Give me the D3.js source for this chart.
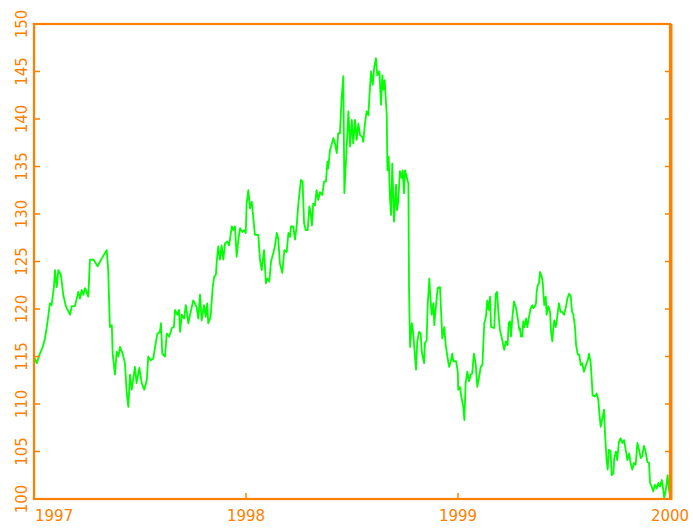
<!DOCTYPE html>
<html>
<head>
<meta charset="utf-8">
<script src="https://cdn.jsdelivr.net/npm/d3@7"></script>
<style>
  body { margin: 0; background: #fff; }
  text { font-family: "DejaVu Sans", sans-serif; font-size: 15px; fill: #ff8000; }
</style>
</head>
<body>
<div id="chart"></div>
<script>
// decimal year, value
const years = [
  1997.000,1997.013,1997.028,1997.041,1997.052,1997.063,1997.075,1997.083,1997.094,1997.099,
  1997.107,1997.115,1997.127,1997.138,1997.150,1997.170,1997.178,1997.193,1997.209,1997.217,
  1997.225,1997.233,1997.241,1997.256,1997.264,1997.280,1997.300,1997.319,1997.343,1997.350,
  1997.358,1997.367,1997.371,1997.382,1997.390,1997.398,1997.406,1997.418,1997.429,1997.437,
  1997.445,1997.453,1997.461,1997.476,1997.484,1997.497,1997.508,1997.520,1997.532,1997.539,
  1997.550,1997.563,1997.571,1997.582,1997.594,1997.599,1997.605,1997.618,1997.626,1997.638,
  1997.650,1997.660,1997.665,1997.676,1997.684,1997.689,1997.697,1997.708,1997.716,1997.728,
  1997.736,1997.751,1997.767,1997.775,1997.783,1997.791,1997.802,1997.810,1997.817,1997.822,
  1997.833,1997.843,1997.850,1997.858,1997.862,1997.869,1997.877,1997.885,1997.893,1997.901,
  1997.912,1997.920,1997.925,1997.933,1997.940,1997.948,1997.956,1997.964,1997.972,1997.983,
  1997.991,1997.999,1998.003,1998.011,1998.019,1998.027,1998.034,1998.042,1998.058,1998.066,
  1998.074,1998.085,1998.094,1998.100,1998.110,1998.118,1998.129,1998.137,1998.145,1998.152,
  1998.160,1998.171,1998.181,1998.192,1998.200,1998.208,1998.212,1998.223,1998.231,1998.239,
  1998.247,1998.259,1998.267,1998.274,1998.282,1998.291,1998.299,1998.305,1998.311,1998.317,
  1998.325,1998.333,1998.341,1998.349,1998.360,1998.368,1998.377,1998.384,1998.388,1998.396,
  1998.404,1998.412,1998.420,1998.428,1998.435,1998.443,1998.451,1998.459,1998.464,1998.475,
  1998.483,1998.491,1998.499,1998.506,1998.514,1998.522,1998.530,1998.538,1998.549,1998.553,
  1998.561,1998.569,1998.577,1998.585,1998.590,1998.598,1998.605,1998.613,1998.619,1998.629,
  1998.637,1998.643,1998.648,1998.654,1998.659,1998.664,1998.667,1998.673,1998.679,1998.684,
  1998.690,1998.698,1998.708,1998.712,1998.718,1998.726,1998.734,1998.739,1998.745,1998.750,
  1998.758,1998.766,1998.769,1998.774,1998.782,1998.789,1998.797,1998.802,1998.808,1998.816,
  1998.824,1998.829,1998.840,1998.844,1998.852,1998.857,1998.865,1998.868,1998.876,1998.884,
  1998.888,1998.896,1998.904,1998.915,1998.920,1998.926,1998.935,1998.942,1998.950,1998.958,
  1998.966,1998.973,1998.978,1998.991,1998.999,1999.001,1999.009,1999.017,1999.025,1999.030,
  1999.036,1999.044,1999.052,1999.060,1999.067,1999.075,1999.083,1999.091,1999.100,1999.107,
  1999.115,1999.124,1999.132,1999.138,1999.145,1999.151,1999.156,1999.171,1999.178,1999.184,
  1999.192,1999.198,1999.209,1999.218,1999.226,1999.234,1999.239,1999.245,1999.250,1999.256,
  1999.264,1999.274,1999.282,1999.289,1999.292,1999.297,1999.303,1999.308,1999.313,1999.321,
  1999.327,1999.335,1999.343,1999.351,1999.355,1999.363,1999.368,1999.371,1999.376,1999.382,
  1999.387,1999.395,1999.400,1999.403,1999.407,1999.414,1999.418,1999.426,1999.434,1999.439,
  1999.445,1999.450,1999.454,1999.461,1999.466,1999.470,1999.476,1999.484,1999.492,1999.500,
  1999.508,1999.516,1999.524,1999.532,1999.538,1999.544,1999.552,1999.557,1999.565,1999.572,
  1999.579,1999.586,1999.594,1999.604,1999.612,1999.618,1999.626,1999.631,1999.635,1999.646,
  1999.654,1999.662,1999.667,1999.673,1999.681,1999.689,1999.693,1999.701,1999.706,1999.712,
  1999.720,1999.725,1999.733,1999.737,1999.745,1999.751,1999.759,1999.767,1999.775,1999.783,
  1999.791,1999.799,1999.807,1999.814,1999.822,1999.830,1999.838,1999.846,1999.854,1999.862,
  1999.869,1999.877,1999.885,1999.893,1999.901,1999.906,1999.914,1999.921,1999.929,1999.937,
  1999.945,1999.953,1999.961,1999.966,1999.973,1999.981,1999.989,1999.994,2000.000
];
const values = [
  115.0,114.3,115.3,116.0,116.9,118.5,120.6,120.4,122.3,124.1,
  122.3,124.1,123.6,121.5,120.3,119.4,120.3,120.3,121.8,121.1,
  122.0,121.5,122.2,121.3,125.2,125.2,124.5,125.3,126.2,124.1,
  118.1,118.3,115.3,113.1,115.5,115.0,116.0,115.3,114.3,111.3,
  109.7,113.1,111.5,113.9,112.2,113.8,112.2,111.5,112.5,115.0,
  114.6,114.8,116.0,117.4,117.6,118.5,115.3,115.0,117.4,117.1,
  118.0,118.1,119.9,119.4,119.9,117.6,119.4,119.0,120.4,118.5,
  119.4,120.9,120.2,119.0,121.5,118.8,120.4,119.2,120.6,118.5,
  119.2,122.3,123.4,123.6,125.0,126.6,125.2,126.7,125.2,126.9,
  127.1,126.7,127.4,128.7,128.3,128.7,125.5,127.3,128.5,128.1,
  128.3,128.0,131.1,132.5,130.6,131.3,129.7,127.8,127.8,125.2,
  124.1,126.2,122.7,123.2,122.9,125.0,125.9,126.7,128.0,127.4,
  124.8,123.8,126.2,126.0,128.0,127.6,128.7,128.7,127.3,128.7,
  131.1,133.6,133.4,129.0,128.3,128.3,130.8,130.1,128.8,131.1,
  130.9,132.5,131.5,132.3,132.0,133.4,133.4,135.5,134.8,136.7,
  137.3,138.0,137.4,136.4,138.5,138.5,142.2,144.5,132.2,137.1,
  140.8,137.1,139.9,137.4,139.9,137.8,139.5,138.3,138.1,137.6,
  139.5,140.8,140.4,143.4,145.0,143.6,145.5,146.4,144.6,145.0,
  141.5,144.6,143.1,144.1,142.2,140.4,134.6,136.0,131.8,129.9,
  135.3,129.2,133.1,130.4,131.3,134.5,133.8,134.6,132.2,134.6,
  133.9,133.2,122.3,116.0,118.5,117.4,115.0,113.6,116.6,117.6,
  117.4,115.5,114.3,116.4,116.7,120.4,123.2,121.8,119.4,120.6,
  118.3,120.3,122.2,122.3,119.9,116.9,118.1,116.2,115.0,113.9,
  114.5,115.3,114.5,114.5,113.4,111.5,111.8,110.6,109.7,108.3,
  112.2,113.4,112.4,113.1,113.2,115.3,114.3,111.8,112.9,113.9,
  114.1,118.5,119.2,120.9,119.9,121.3,118.1,118.0,121.6,121.8,
  119.2,117.8,116.7,115.7,116.6,116.2,118.5,118.7,117.1,119.0,
  120.8,120.1,119.0,117.8,118.0,117.1,117.1,118.7,118.1,119.0,
  118.1,119.2,120.1,120.4,120.1,120.3,120.6,121.8,122.5,122.7,
  123.9,123.4,122.7,121.6,120.4,121.3,119.4,120.3,119.7,117.6,
  116.6,118.1,118.8,118.1,118.8,119.5,120.6,119.7,119.7,119.4,
  120.1,121.1,121.6,121.3,119.7,119.4,118.1,116.2,115.2,115.2,
  114.1,114.3,113.4,114.1,114.6,115.3,114.3,112.5,110.9,110.8,
  111.1,110.4,109.0,107.6,108.5,109.4,107.1,104.1,103.1,105.2,
  105.0,102.5,102.7,104.3,105.0,104.1,106.0,106.4,105.9,106.2,
  105.2,104.1,104.8,103.8,103.1,103.8,103.6,105.9,105.2,104.3,
  104.5,105.6,105.0,103.9,103.8,101.7,101.3,100.8,101.5,101.1,
  101.7,101.3,102.0,101.3,100.1,101.1,102.5,101.1,100.4
];
const yTicks = [100, 105, 110, 115, 120, 125, 130, 135, 140, 145, 150];
const xTicks = [1997, 1998, 1999, 2000];

const width = 693, height = 530;
const margin = {top: 24, right: 23, bottom: 31, left: 34};
const orange = "#ff8000";

const svg = d3.select("#chart")
  .append("svg")
    .attr("width", width)
    .attr("height", height);

const x = d3.scaleLinear()
  .domain([1997, 2000])
  .range([margin.left, width - margin.right]);
const y = d3.scaleLinear()
  .domain([100, 150])
  .range([height - margin.bottom, margin.top]);

const data = years.map((t, i) => ({t: t, v: values[i]}));

// the line
svg.append("path")
  .datum(data)
  .attr("fill", "none")
  .attr("stroke", "#00ff00")
  .attr("stroke-width", 1.8)
  .attr("stroke-linejoin", "round")
  .attr("d", d3.line().x(d => x(d.t)).y(d => y(d.v)));

// frame
svg.append("rect")
  .attr("x", x(1997))
  .attr("y", y(150))
  .attr("width", x(2000) - x(1997))
  .attr("height", y(100) - y(150))
  .attr("fill", "none")
  .attr("stroke", orange)
  .attr("stroke-width", 2.2);
svg.append("line")
  .attr("x1", x(2000) + 1).attr("x2", x(2000) + 1)
  .attr("y1", y(150)).attr("y2", y(100) + 1)
  .attr("stroke", orange)
  .attr("stroke-width", 3);

// y ticks, inside on both sides
const yt = svg.append("g").attr("stroke", orange).attr("stroke-width", 1.5);
yTicks.slice(1, -1).forEach(v => {
  yt.append("line").attr("x1", x(1997)).attr("x2", x(1997) + 6).attr("y1", y(v)).attr("y2", y(v));
  yt.append("line").attr("x1", x(2000) - 5).attr("x2", x(2000)).attr("y1", y(v)).attr("y2", y(v));
});
xTicks.slice(1, -1).forEach(t => {
  yt.append("line").attr("x1", x(t)).attr("x2", x(t)).attr("y1", y(100)).attr("y2", y(100) - 6);
});

// y labels, rotated
yTicks.forEach(v => {
  svg.append("text")
    .attr("transform", `translate(27,${y(v)}) rotate(-90)`)
    .attr("text-anchor", "middle")
    .text(v);
});

// x labels
xTicks.forEach((t, i) => {
  svg.append("text")
    .attr("x", i === 0 ? x(t) + 1 : x(t))
    .attr("y", 521)
    .attr("text-anchor", i === 0 ? "start" : "middle")
    .text(t);
});
</script>
</body>
</html>
